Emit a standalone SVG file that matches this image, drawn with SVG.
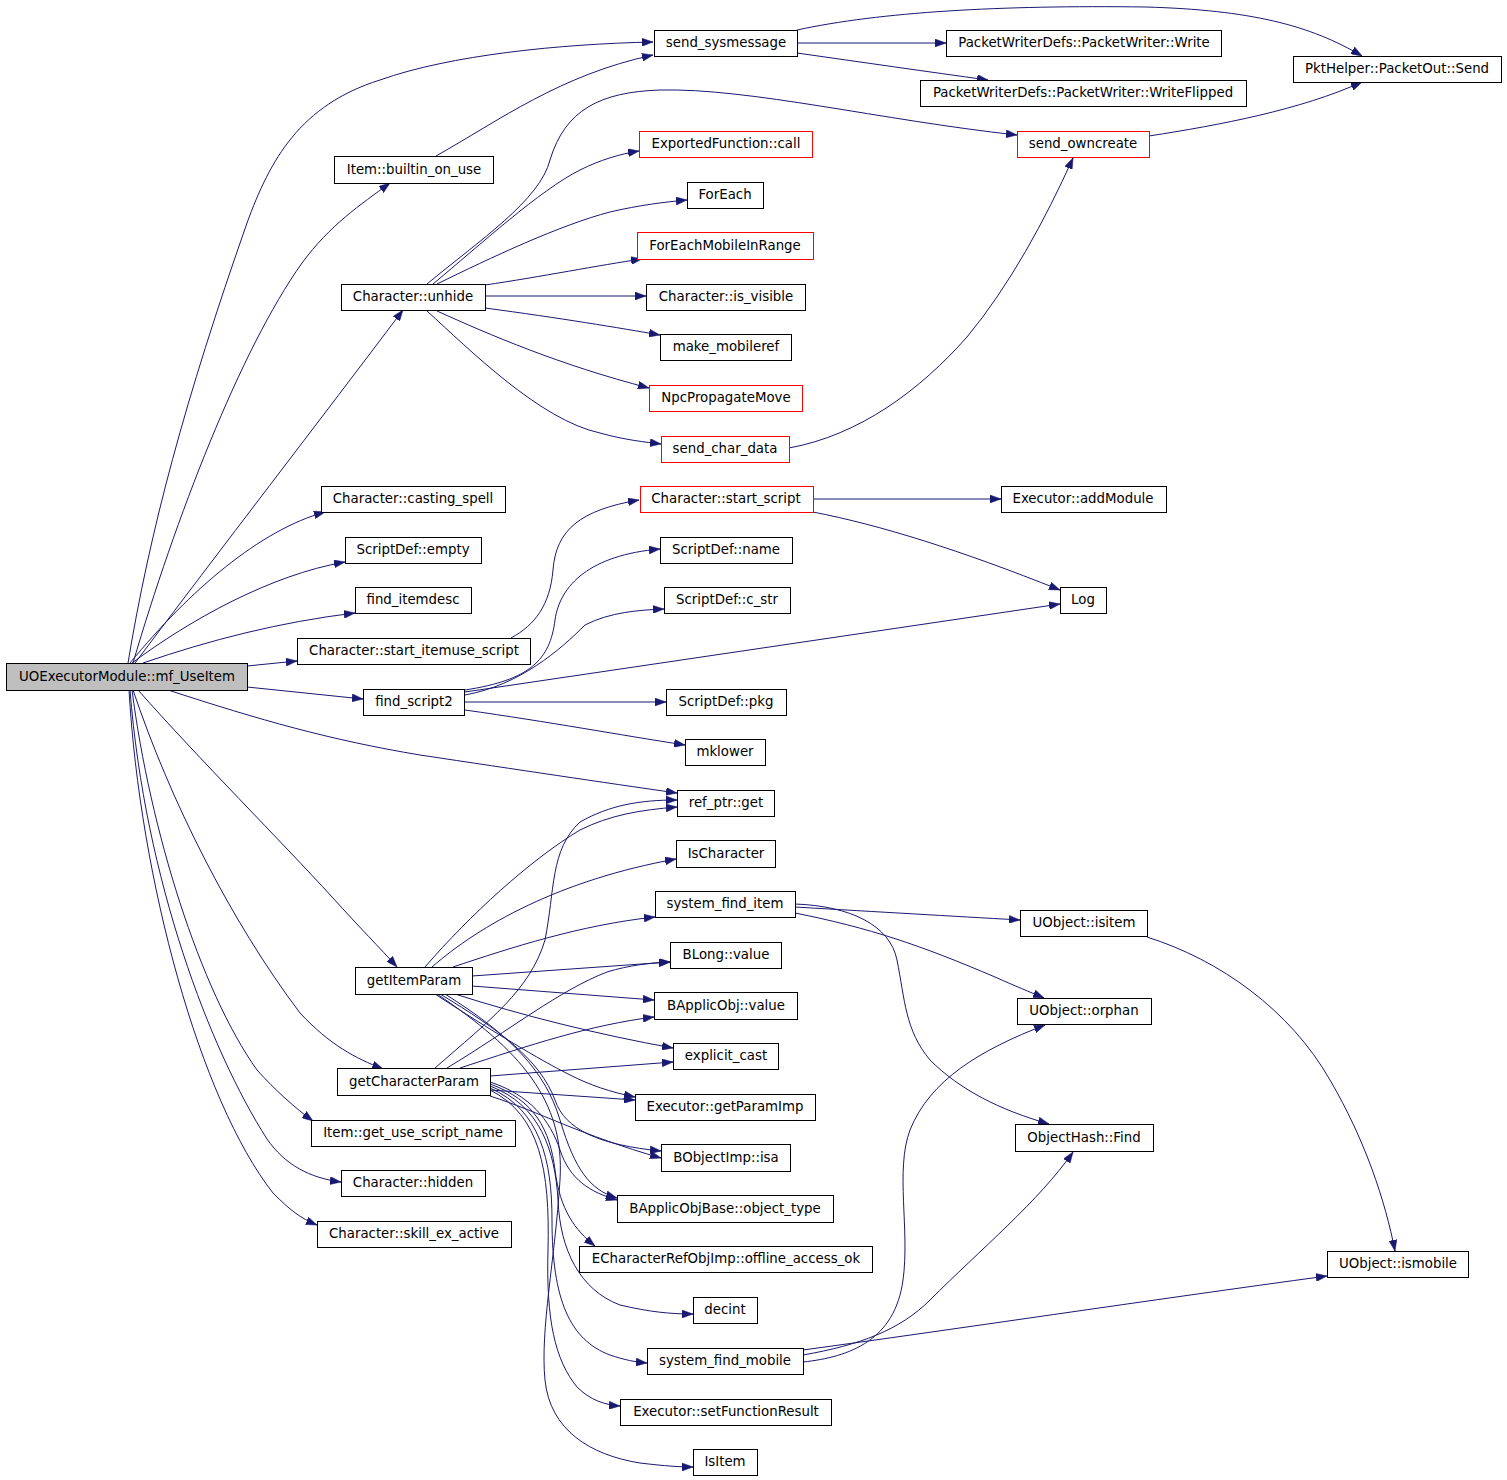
<svg xmlns="http://www.w3.org/2000/svg" width="1507" height="1480" viewBox="0 0 1507 1480">
<style>
.n rect{fill:#fff;stroke:#000;stroke-width:1}
.n.r rect{stroke:#ff0000}
.n.root rect{fill:#bfbfbf}
.n text{font-family:"DejaVu Sans","Liberation Sans",sans-serif;font-size:13.33px;text-anchor:middle;fill:#000;transform:translate(0px,-1.5px)}
#edges path{fill:none;stroke:#191970;stroke-width:1;marker-end:url(#arr)}
</style>
<defs>
<marker id="arr" markerUnits="userSpaceOnUse" markerWidth="11" markerHeight="8" viewBox="0 0 11 8" refX="11" refY="4" orient="auto">
<path d="M0,0 L11,4 L0,8 z" fill="#191970" stroke="#191970" stroke-width="0.5"/>
</marker>
</defs>
<rect width="1507" height="1480" fill="#fff"/>
<g id="edges">
<path d="M128,663 C150,530 185,400 247,223 C270,160 300,105 380,80 C450,55 560,44 653,42"/>
<path d="M436,156 C500,120 560,75 653,55"/>
<path d="M133,663 C175,520 240,350 302,263 C330,225 360,205 390,183"/>
<path d="M135,663 C220,550 320,420 403,310"/>
<path d="M130,663 C190,590 260,530 325,512"/>
<path d="M132,663 C190,620 270,575 345,562"/>
<path d="M143,663 C210,640 280,622 355,613"/>
<path d="M247,666 L297,661"/>
<path d="M247,687 L363,699"/>
<path d="M168,690 C260,720 330,740 420,755 C520,770 600,782 677,793"/>
<path d="M138,690 C200,760 280,840 333,898 C360,928 380,948 397,967"/>
<path d="M133,690 C170,800 230,920 300,1013 C330,1045 355,1058 383,1069"/>
<path d="M132,690 C150,830 200,990 257,1070 C275,1090 295,1108 313,1121"/>
<path d="M130,690 C145,880 210,1050 267,1139 C285,1165 310,1178 341,1182"/>
<path d="M129,690 C140,880 200,1100 273,1193 C290,1210 300,1218 317,1225"/>
<path d="M427,284 C480,240 540,200 550,160 C565,110 600,92 660,90 C750,88 880,120 1017,135"/>
<path d="M433,284 C480,245 540,190 580,170 C600,160 620,154 639,151"/>
<path d="M437,284 C490,258 560,225 610,212 C640,205 665,202 687,200"/>
<path d="M485,285 C540,277 600,265 642,259"/>
<path d="M485,296 L646,296"/>
<path d="M485,308 C560,318 620,328 660,335"/>
<path d="M437,311 C490,335 560,365 649,388"/>
<path d="M427,311 C470,350 540,420 600,433 C625,440 645,442 661,444"/>
<path d="M789,448 C860,435 920,390 967,337 C1010,285 1045,220 1073,158"/>
<path d="M797,43 L946,43"/>
<path d="M797,53 C860,62 930,72 988,80"/>
<path d="M797,30 C880,12 1000,5 1146,7 C1250,10 1310,25 1362,56"/>
<path d="M1149,136 C1220,125 1300,110 1362,82"/>
<path d="M511,638 C535,625 550,605 553,570 C556,530 580,510 639,500"/>
<path d="M813,499 L1001,499"/>
<path d="M813,512 C880,525 960,550 1060,590"/>
<path d="M465,690 C530,680 550,660 555,620 C560,585 590,555 660,549"/>
<path d="M465,695 C520,685 560,650 585,625 C610,612 640,610 664,609"/>
<path d="M465,692 L1060,604"/>
<path d="M465,702 L666,702"/>
<path d="M465,710 C550,722 620,735 685,745"/>
<path d="M425,967 C470,915 530,860 580,830 C610,815 640,810 677,807"/>
<path d="M435,1068 C490,1020 530,990 545,940 C555,890 550,850 580,822 C610,805 640,800 677,800"/>
<path d="M432,967 C480,925 560,880 676,859"/>
<path d="M453,967 C510,948 580,925 655,917"/>
<path d="M472,976 L670,962"/>
<path d="M447,1068 C510,1030 560,990 607,972 C630,965 650,963 670,962"/>
<path d="M472,986 L654,1000"/>
<path d="M460,1068 C530,1045 590,1025 654,1017"/>
<path d="M455,994 C520,1015 600,1035 673,1048"/>
<path d="M490,1076 L673,1062"/>
<path d="M435,994 C490,1030 540,1060 570,1075 C590,1085 610,1092 635,1097"/>
<path d="M490,1090 L635,1100"/>
<path d="M440,994 C500,1030 540,1060 555,1100 C565,1130 600,1145 661,1151"/>
<path d="M490,1096 C540,1112 580,1135 661,1158"/>
<path d="M445,994 C510,1035 545,1070 560,1120 C575,1170 590,1190 617,1198"/>
<path d="M490,1082 C530,1095 550,1120 560,1150 C570,1180 590,1192 617,1200"/>
<path d="M490,1084 C535,1100 550,1130 555,1170 C560,1210 575,1230 595,1246"/>
<path d="M490,1086 C540,1105 555,1150 558,1200 C560,1250 580,1290 620,1305 C650,1312 670,1314 693,1314"/>
<path d="M490,1088 C540,1110 552,1160 552,1220 C552,1300 570,1340 610,1355 C625,1360 635,1362 647,1363"/>
<path d="M490,1090 C540,1115 550,1170 548,1250 C546,1320 555,1360 577,1387 C590,1400 605,1405 620,1406"/>
<path d="M437,994 C520,1050 565,1100 560,1180 C555,1260 540,1330 545,1380 C550,1430 590,1455 640,1463 C665,1466 680,1467 693,1467"/>
<path d="M795,907 C880,912 950,916 1020,920"/>
<path d="M795,913 C870,928 920,945 995,977 C1015,986 1030,992 1044,998"/>
<path d="M795,904 C850,906 890,925 897,960 C905,1000 905,1030 930,1060 C960,1090 1000,1110 1049,1124"/>
<path d="M1147,937 C1220,960 1290,1010 1330,1080 C1365,1140 1385,1200 1395,1251"/>
<path d="M803,1350 C950,1330 1150,1300 1327,1276"/>
<path d="M803,1355 C860,1345 900,1330 930,1300 C980,1250 1040,1200 1073,1152"/>
<path d="M803,1362 C850,1357 895,1340 903,1280 C910,1230 895,1170 910,1130 C930,1080 980,1050 1045,1025"/>
</g>
<g id="n_root" class="n root"><rect x="6.5" y="663.5" width="241" height="27"/><text x="127" y="682">UOExecutorModule::mf_UseItem</text></g>
<g id="n_send_sysmessage" class="n"><rect x="654.5" y="30.5" width="143" height="26"/><text x="726" y="48">send_sysmessage</text></g>
<g id="n_pw_write" class="n"><rect x="946.5" y="30.5" width="275" height="26"/><text x="1084" y="48">PacketWriterDefs::PacketWriter::Write</text></g>
<g id="n_pw_writeflipped" class="n"><rect x="920.5" y="80.5" width="326" height="26"/><text x="1083" y="98">PacketWriterDefs::PacketWriter::WriteFlipped</text></g>
<g id="n_packetout_send" class="n"><rect x="1293.5" y="56.5" width="208" height="26"/><text x="1397" y="74">PktHelper::PacketOut::Send</text></g>
<g id="n_builtin_on_use" class="n"><rect x="334.5" y="156.5" width="159" height="27"/><text x="414" y="175">Item::builtin_on_use</text></g>
<g id="n_exported_call" class="n r"><rect x="639.5" y="131.5" width="173" height="26"/><text x="726" y="149">ExportedFunction::call</text></g>
<g id="n_send_owncreate" class="n r"><rect x="1017.5" y="131.5" width="132" height="26"/><text x="1083" y="149">send_owncreate</text></g>
<g id="n_foreach" class="n"><rect x="687.5" y="182.5" width="76" height="26"/><text x="725" y="200">ForEach</text></g>
<g id="n_foreachmobile" class="n r"><rect x="637.5" y="232.5" width="176" height="27"/><text x="725" y="251">ForEachMobileInRange</text></g>
<g id="n_unhide" class="n"><rect x="341.5" y="284.5" width="144" height="26"/><text x="413" y="302">Character::unhide</text></g>
<g id="n_is_visible" class="n"><rect x="646.5" y="284.5" width="159" height="26"/><text x="726" y="302">Character::is_visible</text></g>
<g id="n_make_mobileref" class="n"><rect x="660.5" y="334.5" width="131" height="26"/><text x="726" y="352">make_mobileref</text></g>
<g id="n_npcpropagatemove" class="n r"><rect x="649.5" y="385.5" width="153" height="26"/><text x="726" y="403">NpcPropagateMove</text></g>
<g id="n_send_char_data" class="n r"><rect x="661.5" y="436.5" width="128" height="26"/><text x="725" y="454">send_char_data</text></g>
<g id="n_casting_spell" class="n"><rect x="321.5" y="486.5" width="184" height="26"/><text x="413" y="504">Character::casting_spell</text></g>
<g id="n_start_script" class="n r"><rect x="640.5" y="486.5" width="173" height="26"/><text x="726" y="504">Character::start_script</text></g>
<g id="n_addmodule" class="n"><rect x="1001.5" y="486.5" width="165" height="26"/><text x="1083" y="504">Executor::addModule</text></g>
<g id="n_sd_empty" class="n"><rect x="345.5" y="537.5" width="136" height="26"/><text x="413" y="555">ScriptDef::empty</text></g>
<g id="n_sd_name" class="n"><rect x="660.5" y="537.5" width="132" height="26"/><text x="726" y="555">ScriptDef::name</text></g>
<g id="n_find_itemdesc" class="n"><rect x="355.5" y="587.5" width="116" height="26"/><text x="413" y="605">find_itemdesc</text></g>
<g id="n_sd_c_str" class="n"><rect x="664.5" y="587.5" width="126" height="26"/><text x="727" y="605">ScriptDef::c_str</text></g>
<g id="n_log" class="n"><rect x="1060.5" y="587.5" width="46" height="26"/><text x="1083" y="605">Log</text></g>
<g id="n_start_itemuse_script" class="n"><rect x="297.5" y="638.5" width="233" height="26"/><text x="414" y="656">Character::start_itemuse_script</text></g>
<g id="n_find_script2" class="n"><rect x="363.5" y="689.5" width="101" height="26"/><text x="414" y="707">find_script2</text></g>
<g id="n_sd_pkg" class="n"><rect x="666.5" y="689.5" width="120" height="26"/><text x="726" y="707">ScriptDef::pkg</text></g>
<g id="n_mklower" class="n"><rect x="685.5" y="739.5" width="80" height="26"/><text x="725" y="757">mklower</text></g>
<g id="n_refptr_get" class="n"><rect x="677.5" y="790.5" width="97" height="26"/><text x="726" y="808">ref_ptr::get</text></g>
<g id="n_ischaracter" class="n"><rect x="676.5" y="840.5" width="99" height="27"/><text x="726" y="859">IsCharacter</text></g>
<g id="n_system_find_item" class="n"><rect x="655.5" y="891.5" width="140" height="26"/><text x="725" y="909">system_find_item</text></g>
<g id="n_uobject_isitem" class="n"><rect x="1020.5" y="910.5" width="127" height="26"/><text x="1084" y="928">UObject::isitem</text></g>
<g id="n_blong_value" class="n"><rect x="670.5" y="942.5" width="111" height="26"/><text x="726" y="960">BLong::value</text></g>
<g id="n_getitemparam" class="n"><rect x="355.5" y="967.5" width="117" height="27"/><text x="414" y="986">getItemParam</text></g>
<g id="n_bapplicobj_value" class="n"><rect x="654.5" y="992.5" width="143" height="27"/><text x="726" y="1011">BApplicObj::value</text></g>
<g id="n_uobject_orphan" class="n"><rect x="1017.5" y="998.5" width="134" height="26"/><text x="1084" y="1016">UObject::orphan</text></g>
<g id="n_explicit_cast" class="n"><rect x="673.5" y="1043.5" width="105" height="26"/><text x="726" y="1061">explicit_cast</text></g>
<g id="n_getcharacterparam" class="n"><rect x="337.5" y="1068.5" width="153" height="27"/><text x="414" y="1087">getCharacterParam</text></g>
<g id="n_getparamimp" class="n"><rect x="635.5" y="1094.5" width="180" height="26"/><text x="725" y="1112">Executor::getParamImp</text></g>
<g id="n_get_use_script_name" class="n"><rect x="311.5" y="1120.5" width="204" height="26"/><text x="413" y="1138">Item::get_use_script_name</text></g>
<g id="n_objecthash_find" class="n"><rect x="1015.5" y="1124.5" width="138" height="27"/><text x="1084" y="1143">ObjectHash::Find</text></g>
<g id="n_bobjectimp_isa" class="n"><rect x="661.5" y="1144.5" width="129" height="27"/><text x="726" y="1163">BObjectImp::isa</text></g>
<g id="n_hidden" class="n"><rect x="341.5" y="1170.5" width="144" height="26"/><text x="413" y="1188">Character::hidden</text></g>
<g id="n_object_type" class="n"><rect x="617.5" y="1195.5" width="216" height="27"/><text x="725" y="1214">BApplicObjBase::object_type</text></g>
<g id="n_skill_ex_active" class="n"><rect x="317.5" y="1221.5" width="194" height="26"/><text x="414" y="1239">Character::skill_ex_active</text></g>
<g id="n_offline_access_ok" class="n"><rect x="579.5" y="1246.5" width="293" height="26"/><text x="726" y="1264">ECharacterRefObjImp::offline_access_ok</text></g>
<g id="n_uobject_ismobile" class="n"><rect x="1327.5" y="1251.5" width="141" height="26"/><text x="1398" y="1269">UObject::ismobile</text></g>
<g id="n_decint" class="n"><rect x="693.5" y="1297.5" width="64" height="26"/><text x="725" y="1315">decint</text></g>
<g id="n_system_find_mobile" class="n"><rect x="647.5" y="1348.5" width="156" height="26"/><text x="725" y="1366">system_find_mobile</text></g>
<g id="n_setfunctionresult" class="n"><rect x="620.5" y="1399.5" width="211" height="26"/><text x="726" y="1417">Executor::setFunctionResult</text></g>
<g id="n_isitem" class="n"><rect x="693.5" y="1449.5" width="64" height="26"/><text x="725" y="1467">IsItem</text></g>
</svg>
